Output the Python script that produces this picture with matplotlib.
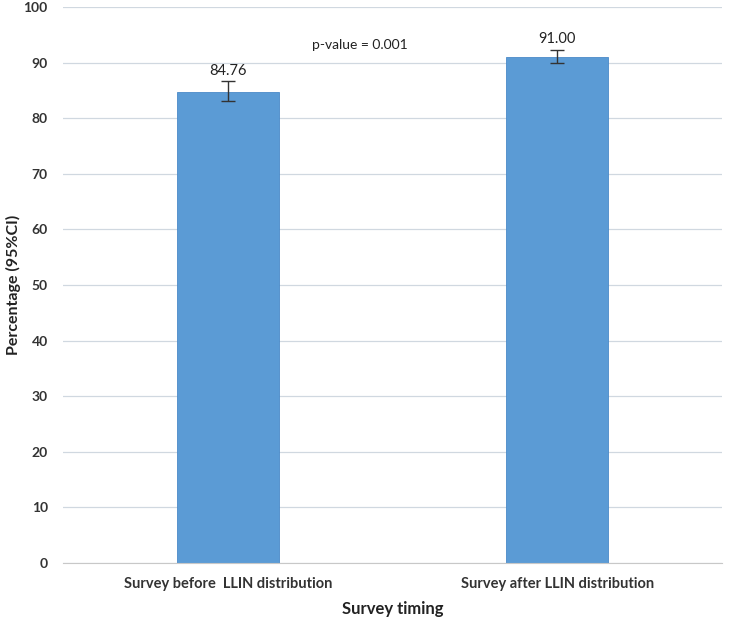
import numpy as np
import matplotlib.pyplot as plt

plt.rcParams['font.family'] = ['Lato', 'DejaVu Sans']

categories = ['Survey before  LLIN distribution', 'Survey after LLIN distribution']
values = [84.76, 91.00]
ci_low = [83.1, 89.9]
ci_high = [86.6, 92.3]
value_labels = ['84.76', '91.00']
yticks = [0, 10, 20, 30, 40, 50, 60, 70, 80, 90, 100]

fig = plt.figure(figsize=(7.3, 6.23), dpi=100)
ax = fig.add_axes([0.0863, 0.0963, 0.9027, 0.8925])

x = np.arange(len(categories))
err = [np.array(values) - np.array(ci_low), np.array(ci_high) - np.array(values)]
ax.bar(x, values, width=0.31, color='#5b9bd5', edgecolor='#4a8ac8', linewidth=0.6, zorder=3)
ax.errorbar(x, values, yerr=err, fmt='none', ecolor='#333333', elinewidth=1, capsize=5, capthick=1, zorder=4)

for xi, v, hi, lab in zip(x, values, ci_high, value_labels):
    ax.text(xi, hi + 0.6, lab, ha='center', va='bottom', fontsize=10.5, color='#222222')

# p-value note sits a bit left of the midpoint
ax.text(0.4, 93.2, 'p-value = 0.001', ha='center', va='center', fontsize=10, color='#222222')

ax.set_xlim(-0.5, 1.5)
ax.set_ylim(0, 100)
ax.set_yticks(yticks)
ax.set_xticks(x)
ax.set_xticklabels(categories, fontsize=10.5, fontweight='bold', color='#333333')
ax.tick_params(axis='y', labelsize=10, colors='#333333', length=0, pad=11)
ax.tick_params(axis='x', length=0, pad=10)
for lab in ax.get_yticklabels():
    lab.set_fontweight('bold')

ax.yaxis.grid(True, color='#d0d8e0', linewidth=0.9, zorder=0)
for s in ['top', 'right', 'left']:
    ax.spines[s].set_visible(False)
ax.spines['bottom'].set_color('#c8c8c8')
ax.spines['bottom'].set_zorder(5)

ax.set_xlabel('Survey timing', fontsize=12, fontweight='bold', color='#222222', labelpad=7)
ax.set_ylabel('Percentage (95%CI)', fontsize=11.5, fontweight='bold', color='#222222', labelpad=2)

fig.savefig('out.png', dpi=100)
